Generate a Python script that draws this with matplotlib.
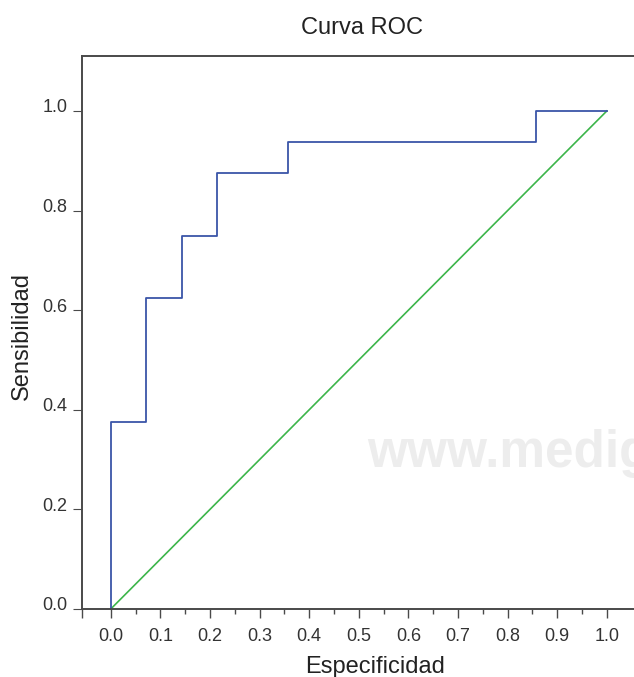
import matplotlib
matplotlib.use("Agg")
import matplotlib.pyplot as plt
from matplotlib.transforms import ScaledTranslation

plt.rcParams['font.family'] = ['Liberation Sans', 'DejaVu Sans']

# ROC step curve (1 - especificidad, sensibilidad)
roc_x = [0.0, 0.0, 0.0714, 0.0714, 0.1429, 0.1429, 0.2143, 0.2143,
         0.3571, 0.3571, 0.8571, 0.8571, 1.0]
roc_y = [0.0, 0.375, 0.375, 0.625, 0.625, 0.75, 0.75, 0.875,
         0.875, 0.9375, 0.9375, 1.0, 1.0]
diag_x = [0.0, 1.0]
diag_y = [0.0, 1.0]

x_major = [0.0, 0.1, 0.2, 0.3, 0.4, 0.5, 0.6, 0.7, 0.8, 0.9, 1.0]
x_labels = ["0.0", "0.1", "0.2", "0.3", "0.4", "0.5", "0.6", "0.7", "0.8", "0.9", "1.0"]
x_minor = [0.05, 0.15, 0.25, 0.35, 0.45, 0.55, 0.65, 0.75, 0.85, 0.95]
y_major = [0.0, 0.2, 0.4, 0.6, 0.8, 1.0]
y_labels = ["0.0", "0.2", "0.4", "0.6", "0.8", "1.0"]

W, H = 634, 677
fig = plt.figure(figsize=(W / 100, H / 100), dpi=100)
left, right, bottom, top = 82, 641.5, 609, 56
ax = fig.add_axes([left / W, 1 - bottom / H, (right - left) / W, (bottom - top) / H])
ax.set_xlim(-0.058, 1.07)
ax.set_ylim(0, (bottom - top) / 498)

# watermark
fig.text(367 / W, 1 - 467 / H, "www.medigraphic.com", fontsize=37, fontweight='bold',
         color='#ededed', ha='left', va='baseline', zorder=0)
ax.set_facecolor('none')

ax.plot(diag_x, diag_y, color='#3cb54a', lw=1.2, clip_on=False)
ax.plot(roc_x, roc_y, color='#3a55a8', lw=1.3, clip_on=False)

spine_c = '#4a4a4a'
for s in ['left', 'bottom', 'top']:
    ax.spines[s].set_color(spine_c)
    ax.spines[s].set_linewidth(1.4)
ax.spines['right'].set_visible(False)

ax.set_xticks([-0.058] + x_major, [''] + x_labels)
ax.set_xticks(x_minor, minor=True)
ax.set_yticks(y_major, y_labels)
ax.tick_params(axis='x', which='major', length=6.5, width=1.0, color=spine_c,
               labelsize=13, labelcolor='#333333', pad=7)
ax.tick_params(axis='x', which='minor', length=3.5, width=1.0, color=spine_c)
ax.tick_params(axis='y', which='major', length=6.5, width=0.8, color=spine_c,
               labelsize=13, labelcolor='#333333', pad=4)

offset = ScaledTranslation(0, 0.05, fig.dpi_scale_trans)
for lbl in ax.get_yticklabels():
    lbl.set_transform(lbl.get_transform() + offset)

fig.text(362 / W, 1 - 28 / H, "Curva ROC", fontsize=17, color='#222222',
         ha='center', va='center')
fig.text(375 / W, 1 - 673 / H, "Especificidad", fontsize=17, color='#222222',
         ha='center', va='baseline')
fig.text(22 / W, 1 - 336 / H, "Sensibilidad", fontsize=17, color='#222222',
         ha='center', va='center', rotation=90)

fig.savefig("out.png", dpi=100)
